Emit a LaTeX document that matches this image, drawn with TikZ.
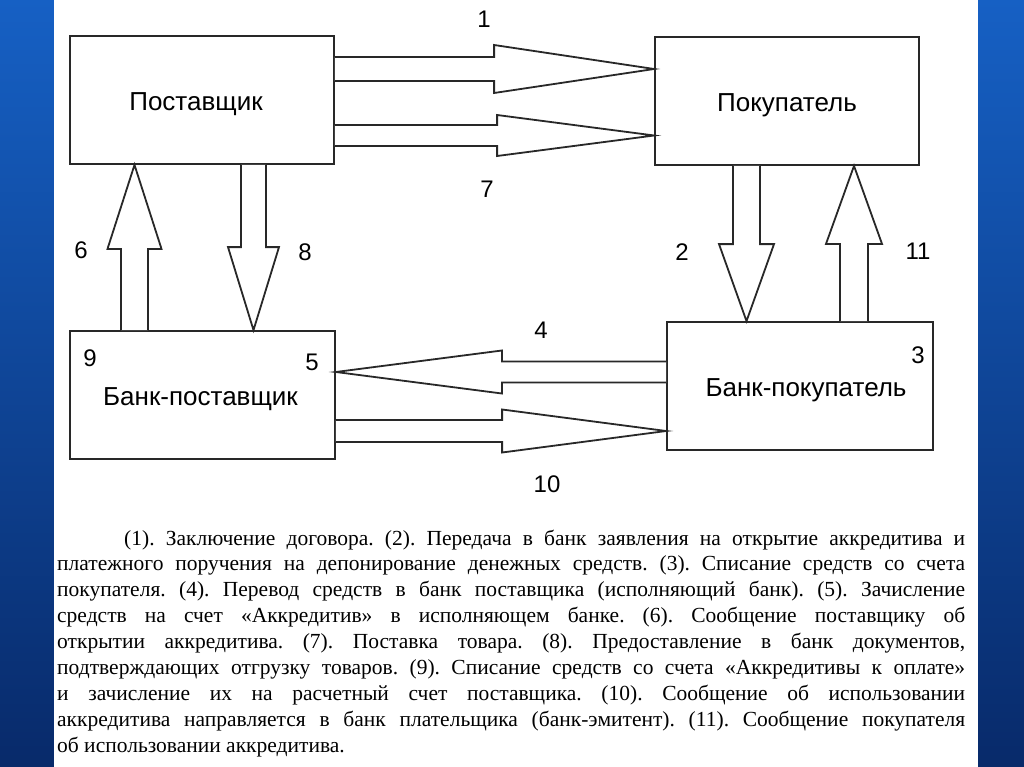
\documentclass[tikz,border=0pt]{standalone}
\usepackage{fontspec}
\setmainfont{Liberation Serif}
\newfontfamily\diagfont{Liberation Sans}
\usetikzlibrary{calc,positioning}
\definecolor{linegray}{RGB}{40,40,40}
\definecolor{slidetop}{RGB}{22,96,196}
\definecolor{slidemid}{RGB}{12,70,160}
\definecolor{slidebot}{RGB}{8,42,106}
\tikzset{
  box/.style={draw=linegray,line width=1.8pt,minimum width=264pt,minimum height=128pt,inner sep=0pt,
    text height=21pt,text depth=0pt,font=\diagfont\fontsize{26}{30}\selectfont},
  num/.style={inner sep=0pt,font=\diagfont\fontsize{24}{28}\selectfont},
  blk/.style={draw=linegray,line width=1.8pt,fill=white,line join=miter},
  side/.style={top color=slidetop,middle color=slidemid,bottom color=slidebot},
}
% block arrow: tail, tip, half shaft, half head, head length
\newcommand\blockarrow[5]{%
  \coordinate (hb) at ($(#2)!#5!(#1)$);
  \draw[blk] ($(#1)!#3!90:(#2)$) -- ($(hb)!#3!90:(#2)$) -- ($(hb)!#4!90:(#2)$) -- (#2)
    -- ($(hb)!#4!-90:(#2)$) -- ($(hb)!#3!-90:(#2)$) -- ($(#1)!#3!-90:(#2)$);
}
\begin{document}
\begin{tikzpicture}[x=1pt,y=-1pt]
\useasboundingbox (0,0) rectangle (1024,767);
\shade[side] (0,0) rectangle (54,767);
\shade[side] (978,0) rectangle (1024,767);
\fill[white] (54,0) rectangle (978,767);

\node[box] (sup) at (202,100) {Поставщик\hspace*{12pt}};
\node[box] (buy) at (787,101) {Покупатель};
\node[box,minimum width=265pt] (bsup) at (202.5,395) {Банк-поставщик\hspace*{4pt}};
\node[box,minimum width=266pt] (bbuy) at (800,386) {\hspace*{12pt}Банк-покупатель};

% tails and tips of the block arrows
\coordinate (t1) at (sup.east |- 0,69);      \coordinate (h1) at (buy.west |- 0,69);
\coordinate (t7) at (sup.east |- 0,135.5);   \coordinate (h7) at (buy.west |- 0,135.5);
\coordinate (t6) at (bsup.north -| 134.5,0); \coordinate (h6) at (sup.south -| 134.5,0);
\coordinate (t8) at (sup.south -| 253.5,0);  \coordinate (h8) at (bsup.north -| 253.5,0);
\coordinate (t2) at (buy.south -| 746.5,0);  \coordinate (h2) at (bbuy.north -| 746.5,0);
\coordinate (t11) at (bbuy.north -| 854,0);  \coordinate (h11) at (buy.south -| 854,0);
\coordinate (t4) at (bbuy.west |- 0,372);    \coordinate (h4) at (bsup.east |- 0,372);
\coordinate (t10) at (bsup.east |- 0,431);   \coordinate (h10) at (bbuy.west |- 0,431);
\foreach \i/\w/\h/\l in {1/12/24/160,7/10.5/20.5/157,6/13.5/27/84,8/12.5/25.5/83,
    2/13.5/27.5/77,11/14/28/78,4/10.5/21.5/166,10/11/21.5/164}
  \blockarrow{t\i}{h\i}{\w pt}{\h pt}{\l pt};

\foreach \t/\x/\y in {1/484/19,7/487/189,6/81/250,8/305/252,2/682/252,11/918/251,
    4/541/330,10/547/484,9/90/358,5/312/362,3/918/355}
  \node[num] (n\t) at (\x,\y) {\t};

\node[anchor=base west,text width=908pt,align=justify,inner sep=0pt,
  font=\fontsize{21.5}{25.9}\selectfont] (legend) at (57,545)
  {\frenchspacing\hyphenpenalty=10000\exhyphenpenalty=10000\hbadness=10000\hfuzz=20pt
  \spaceskip=0.25em plus 1em minus 0.08em
  \hspace*{67pt}(1). Заключение договора. (2). Передача в банк заявления на открытие аккредитива и\linebreak
  платежного поручения на депонирование денежных средств. (3). Списание средств со счета\linebreak
  покупателя. (4). Перевод средств в банк поставщика (исполняющий банк). (5). Зачисление\linebreak
  средств на счет «Аккредитив» в исполняющем банке. (6). Сообщение поставщику об\linebreak
  открытии аккредитива. (7). Поставка товара. (8). Предоставление в банк документов,\linebreak
  подтверждающих отгрузку товаров. (9). Списание средств со счета «Аккредитивы к оплате»\linebreak
  и зачисление их на расчетный счет поставщика. (10). Сообщение об использовании\linebreak
  аккредитива направляется в банк плательщика (банк-эмитент). (11). Сообщение покупателя\linebreak
  об использовании аккредитива.};
\end{tikzpicture}
\end{document}
